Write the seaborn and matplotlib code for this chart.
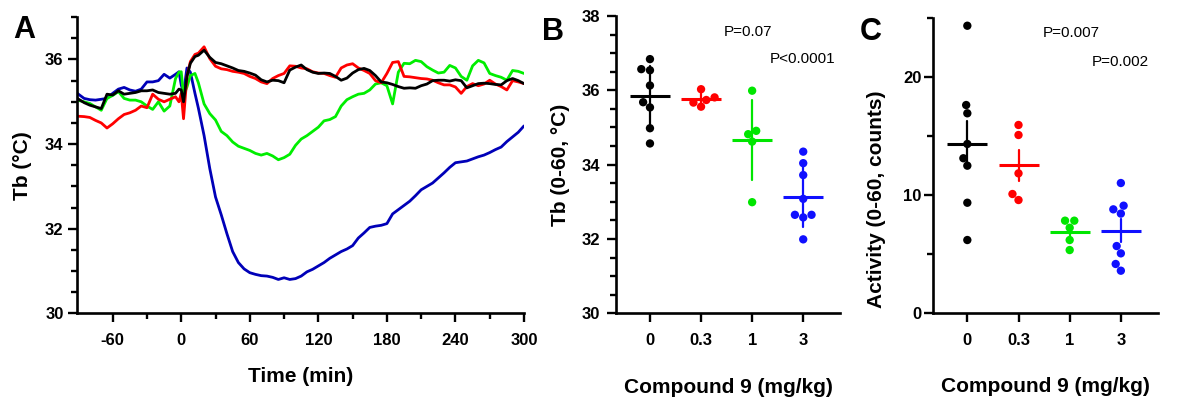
import matplotlib
matplotlib.use("Agg")
import matplotlib.pyplot as plt
import pandas as pd
import seaborn as sns

sns.set_theme(style="ticks")
plt.rcParams["font.family"] = ["Liberation Sans", "DejaVu Sans"]
plt.rcParams["font.weight"] = "bold"
plt.rcParams["axes.labelweight"] = "bold"
plt.rcParams["axes.unicode_minus"] = False
for key in ("text.color", "axes.labelcolor", "xtick.color", "ytick.color", "axes.edgecolor"):
    plt.rcParams[key] = "black"

# Panel A: body temperature time course
time_min = [-91, -85, -80, -75, -70, -65, -60, -55, -50, -45, -40, -35, -30, -25,
            -20, -15, -10, -5, -2, 0, 2, 5, 8, 12,
            15, 20, 25, 30, 35, 40, 45, 50, 55, 60, 65, 70, 75, 80, 85, 90, 95,
            100, 105, 110, 115, 120, 125, 130, 135, 140, 145, 150, 155, 160, 165,
            170, 175, 180, 185, 190, 195, 200, 205, 210, 215, 220, 225, 230, 235,
            240, 245, 250, 255, 260, 265, 270, 275, 280, 285, 290, 295, 300]

tb_dose_0 = [35.08, 34.98, 34.92, 34.88, 34.84, 35.18, 35.16, 35.26, 35.18, 35.20,
             35.22, 35.26, 35.26, 35.28, 35.22, 35.20, 35.18, 35.20, 35.30, 35.28,
             35.00, 35.60, 35.91, 36.07,
             36.10, 36.22, 36.05, 35.93, 35.90, 35.85, 35.80, 35.74, 35.72, 35.68,
             35.63, 35.52, 35.47, 35.51, 35.50, 35.45, 35.75, 35.82, 35.87, 35.76,
             35.70, 35.67, 35.68, 35.67, 35.60, 35.51, 35.56, 35.68, 35.76, 35.79,
             35.74, 35.62, 35.47, 35.45, 35.41, 35.36, 35.32, 35.33, 35.32, 35.38,
             35.42, 35.50, 35.51, 35.51, 35.49, 35.52, 35.50, 35.33, 35.38, 35.43,
             35.44, 35.43, 35.41, 35.40, 35.50, 35.55, 35.50, 35.43]

tb_dose_03 = [34.66, 34.65, 34.63, 34.56, 34.50, 34.38, 34.48, 34.60, 34.70, 34.74,
              34.80, 34.90, 34.86, 35.18, 35.06, 35.00, 35.06, 35.12, 35.00, 35.20,
              34.60, 35.60, 35.95, 36.12,
              36.15, 36.30, 36.02, 35.84, 35.78, 35.76, 35.72, 35.70, 35.67, 35.60,
              35.55, 35.47, 35.43, 35.55, 35.62, 35.67, 35.85, 35.84, 35.80, 35.78,
              35.71, 35.68, 35.67, 35.62, 35.58, 35.80, 35.87, 35.90, 35.80, 35.74,
              35.67, 35.50, 35.45, 35.67, 35.93, 35.95, 35.60, 35.59, 35.57, 35.55,
              35.54, 35.51, 35.45, 35.40, 35.40, 35.35, 35.20, 35.36, 35.43, 35.38,
              35.42, 35.51, 35.42, 35.36, 35.28, 35.50, 35.47, 35.43]

tb_dose_1 = [35.04, 35.00, 34.96, 34.88, 34.80, 35.08, 35.15, 35.24, 35.08, 35.04,
             35.04, 35.00, 34.90, 34.82, 35.00, 34.78, 34.90, 35.55, 35.70, 35.71,
             35.15, 35.35, 35.62, 35.67,
             35.45, 34.95, 34.72, 34.57, 34.30, 34.20, 34.05, 33.95, 33.90, 33.85,
             33.78, 33.74, 33.78, 33.72, 33.63, 33.68, 33.76, 33.97, 34.12, 34.20,
             34.30, 34.40, 34.55, 34.58, 34.65, 34.90, 35.05, 35.12, 35.18, 35.20,
             35.28, 35.42, 35.45, 35.38, 34.95, 35.70, 35.91, 35.90, 35.98, 35.95,
             35.83, 35.75, 35.68, 35.70, 35.86, 35.80, 35.60, 35.51, 35.85, 35.98,
             35.92, 35.67, 35.62, 35.58, 35.51, 35.74, 35.72, 35.67]

tb_dose_3 = [35.20, 35.08, 35.05, 35.04, 35.06, 35.08, 35.20, 35.30, 35.34, 35.28,
             35.25, 35.30, 35.47, 35.47, 35.50, 35.65, 35.56, 35.65, 35.71, 35.40,
             35.20, 35.80, 35.70, 35.20,
             34.85, 34.20, 33.42, 32.75, 32.33, 31.88, 31.46, 31.20, 31.05, 30.96,
             30.92, 30.89, 30.88, 30.85, 30.80, 30.84, 30.80, 30.82, 30.88, 30.98,
             31.04, 31.12, 31.20, 31.30, 31.38, 31.46, 31.52, 31.60, 31.78, 31.90,
             32.03, 32.06, 32.08, 32.12, 32.35, 32.45, 32.55, 32.65, 32.78, 32.92,
             33.00, 33.08, 33.20, 33.32, 33.45, 33.56, 33.58, 33.60, 33.65, 33.70,
             33.74, 33.80, 33.87, 33.93, 34.06, 34.17, 34.28, 34.43]

# Panels B and C: individual animals per dose
doses = ["0", "0.3", "1", "3"]
tb_avg_0 = [36.84, 36.57, 36.54, 36.13, 35.54, 35.68, 34.98, 34.57]
tb_avg_03 = [36.03, 35.74, 35.81, 35.67, 35.56]
tb_avg_1 = [35.99, 34.91, 34.82, 34.62, 32.99]
tb_avg_3 = [34.35, 34.04, 33.72, 33.08, 32.65, 32.58, 32.65, 31.99]

act_0 = [24.37, 17.65, 16.95, 14.35, 13.14, 12.51, 9.37, 6.21]
act_03 = [15.96, 15.11, 11.86, 10.11, 9.60]
act_1 = [7.85, 7.85, 7.25, 6.21, 5.36]
act_3 = [11.04, 9.12, 8.81, 8.45, 5.70, 5.08, 4.18, 3.61]

line_colors = {"0": "black", "0.3": "#ff0000", "1": "#00ee00", "3": "#0000b8"}
dot_colors = {"0": "black", "0.3": "#ff0000", "1": "#00e600", "3": "#1010ff"}

ts = pd.concat([
    pd.DataFrame({"time": time_min, "tb": vals, "dose": d})
    for d, vals in zip(doses, [tb_dose_0, tb_dose_03, tb_dose_1, tb_dose_3])
])


def long_df(groups, name):
    return pd.concat([pd.DataFrame({"dose": d, name: v}) for d, v in zip(doses, groups)],
                     ignore_index=True)


tb_df = long_df([tb_avg_0, tb_avg_03, tb_avg_1, tb_avg_3], "tb")
act_df = long_df([act_0, act_03, act_1, act_3], "act")

W, H = 1189, 401
fig = plt.figure(figsize=(W / 100, H / 100), dpi=100)


def px_axes(left, right, top, bottom):
    return fig.add_axes([left / W, 1 - bottom / H, (right - left) / W, (bottom - top) / H])


axA = px_axes(76.7, 524, 17.2, 313.3)
axB = px_axes(616, 840, 16, 313.3)
axC = px_axes(933.3, 1157.7, 18.3, 313.3)


def style(ax):
    sns.despine(ax=ax)
    for s in ("left", "bottom"):
        ax.spines[s].set_linewidth(1.9)
    ax.tick_params(which="major", direction="out", length=6.5, width=1.7, labelsize=12)
    ax.tick_params(which="minor", direction="out", length=4, width=1.7)
    ax.tick_params(axis="x", pad=8)


# A
sns.lineplot(data=ts, x="time", y="tb", hue="dose", hue_order=["3", "1", "0.3", "0"],
             palette=line_colors, estimator=None, sort=False, linewidth=2.0,
             legend=False, ax=axA)
axA.set_xlim(-91.5, 300)
axA.set_ylim(30, 37)
axA.set_xticks(range(-60, 301, 60))
axA.set_xticks(range(-30, 300, 60), minor=True)
axA.set_yticks([30, 32, 34, 36])
axA.set_yticks([30 + 0.5 * i for i in range(15)], minor=True)
style(axA)
axA.tick_params(axis="y", pad=3)
axA.set_xlabel("Time (min)", fontsize=15)
axA.set_ylabel("Tb (°C)", fontsize=15)
axA.xaxis.set_label_coords(0.5, -0.215)
axA.xaxis.label.set_va("center")
axA.yaxis.set_label_coords(-0.122, 0.5)
axA.yaxis.label.set_va("center")


def dot_panel(ax, df, col, err):
    sns.swarmplot(data=df, x="dose", y=col, hue="dose", order=doses, hue_order=doses,
                  palette=dot_colors, size=6, legend=False, ax=ax)
    sns.pointplot(data=df, x="dose", y=col, hue="dose", order=doses, hue_order=doses,
                  palette=dot_colors, errorbar=err, markers="_", markersize=29,
                  markeredgewidth=2.2, linestyle="none", err_kws={"linewidth": 1.6},
                  legend=False, ax=ax)
    ax.set_xlim(-0.665, 3.72)
    style(ax)
    ax.set_xlabel("Compound 9 (mg/kg)", fontsize=15)
    ax.xaxis.set_label_coords(0.5, -0.248)
    ax.xaxis.label.set_va("center")


# B
dot_panel(axB, tb_df, "tb", "sd")
axB.set_ylim(30, 38)
axB.set_yticks([30, 32, 34, 36, 38])
axB.set_yticks([30 + 0.5 * i for i in range(17)], minor=True)
axB.tick_params(axis="y", pad=5)
axB.set_ylabel("Tb (0-60, °C)", fontsize=15)
axB.yaxis.set_label_coords(-0.25, 0.5)
axB.yaxis.label.set_va("center")

# C
dot_panel(axC, act_df, "act", "se")
axC.set_ylim(0, 25)
axC.set_yticks([0, 10, 20])
axC.set_yticks([5, 15, 25], minor=True)
axC.tick_params(axis="y", pad=2)
axC.set_ylabel("Activity (0-60, counts)", fontsize=15)
axC.yaxis.set_label_coords(-0.251, 0.387)
axC.yaxis.label.set_va("center")


def fig_text(x, y, s, **kw):
    fig.text(x / W, 1 - y / H, s, ha="center", va="center", **kw)


fig_text(24, 30, "A", fontsize=22, fontweight="bold")
fig_text(553, 32, "B", fontsize=22, fontweight="bold")
fig_text(871, 32, "C", fontsize=22, fontweight="bold")
fig_text(748, 32, "P=0.07", fontsize=11, fontweight="normal")
fig_text(803, 59, "P<0.0001", fontsize=11, fontweight="normal")
fig_text(1071, 33, "P=0.007", fontsize=11, fontweight="normal")
fig_text(1120, 62, "P=0.002", fontsize=11, fontweight="normal")

fig.savefig("out.png", dpi=100)
